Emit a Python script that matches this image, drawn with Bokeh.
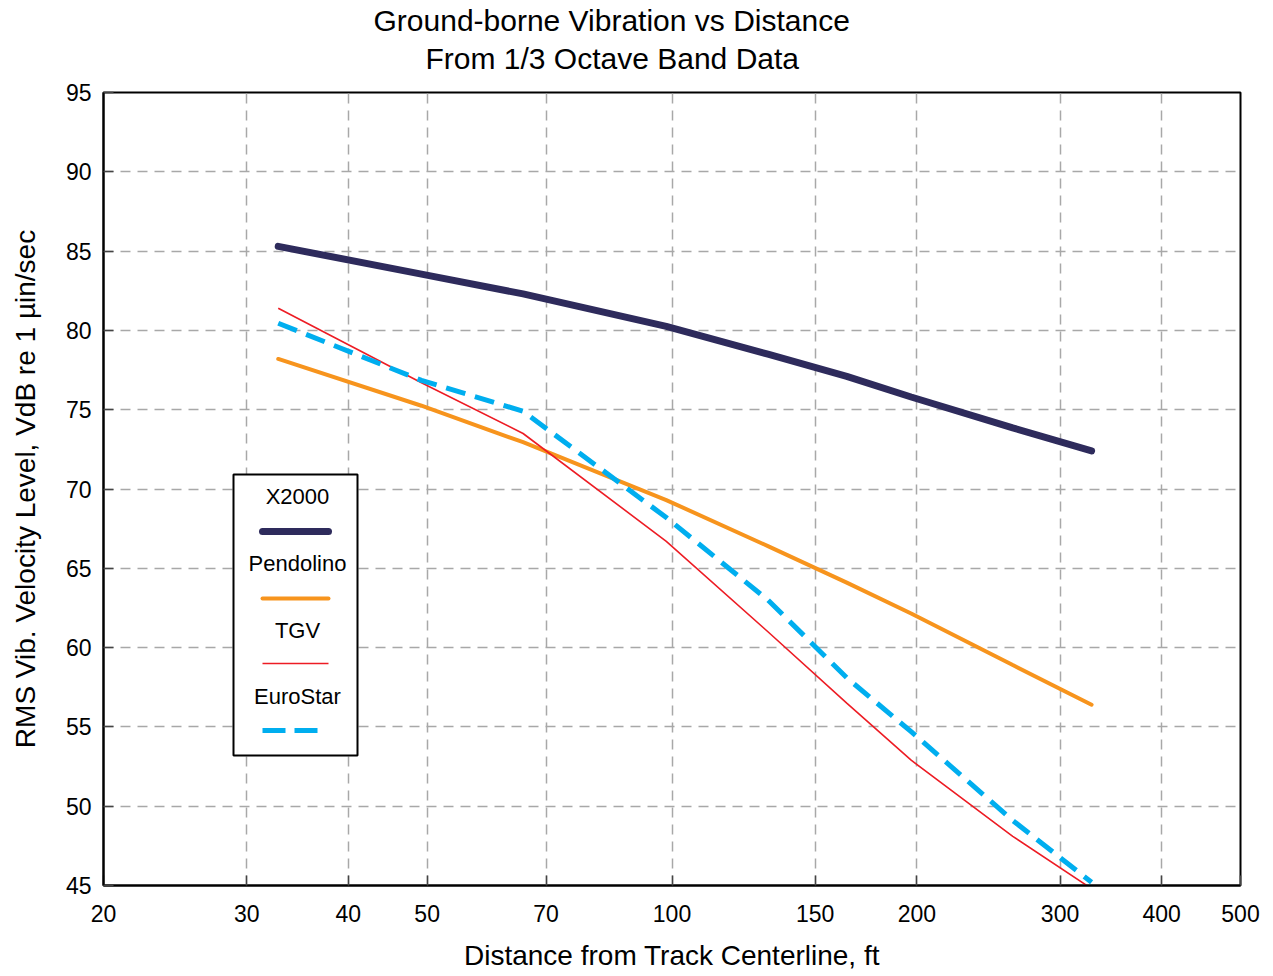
import math
from bokeh.plotting import figure
from bokeh.models import (FixedTicker, PrintfTickFormatter, Label, BoxAnnotation, Range1d, Title)
from bokeh.embed import file_html
from bokeh.resources import INLINE

# ---------------- data ----------------
distance_ft = [32.8, 49.2, 65.6, 98.4, 131.2, 164.0, 196.8, 262.4, 328.0]
x2000 = [85.3, 83.55, 82.3, 80.25, 78.5, 77.1, 75.8, 73.85, 72.4]
pendolino = [78.2, 75.25, 72.95, 69.3, 66.4, 64.1, 62.15, 58.9, 56.4]
tgv = [81.4, 76.7, 73.5, 66.7, 61.0, 56.5, 52.9, 48.1, 44.8]
eurostar = [80.45, 76.85, 74.9, 68.2, 63.0, 58.1, 54.7, 49.1, 45.2]

x_ticks = [20, 30, 40, 50, 70, 100, 150, 200, 300, 400, 500]
y_ticks = [45, 50, 55, 60, 65, 70, 75, 80, 85, 90, 95]
series_names = ["X2000", "Pendolino", "TGV", "EuroStar"]

title_lines = ["Ground-borne Vibration vs Distance", "From 1/3 Octave Band Data"]
x_label = "Distance from Track Centerline, ft"
y_label = "RMS Vib. Velocity Level, VdB re 1 \u00b5in/sec"

# ---------------- styles ----------------
FONT = "Liberation Sans"
NAVY = "#2e2b5c"
ORANGE = "#f7941d"
RED = "#ed1c24"
CYAN = "#00aeef"

X_MIN, X_MAX = 20, 500
Y_MIN, Y_MAX = 45, 95

W, H = 1265, 976
# frame position in picture pixels
FL, FR, FT, FB = 103, 1240, 92, 885

p = figure(width=W, height=H, x_axis_type="log",
           x_range=Range1d(X_MIN, X_MAX), y_range=Range1d(Y_MIN, Y_MAX),
           output_backend="svg", toolbar_location=None,
           min_border_left=FL, min_border_right=W - FR,
           min_border_top=FT, min_border_bottom=H - FB)
p.background_fill_color = "white"
p.border_fill_color = "white"
p.outline_line_color = "black"
p.outline_line_width = 2


def xd(px):
    lo, hi = math.log10(X_MIN), math.log10(X_MAX)
    return 10 ** (lo + (px - FL) / (FR - FL) * (hi - lo))


def yd(py):
    return Y_MAX - (py - FT) / (FB - FT) * (Y_MAX - Y_MIN)


# title (two lines, second one nearest the frame)
for txt, sb, off in zip(reversed(title_lines), [32, -27], [322, 270]):
    p.add_layout(Title(text=txt, align="left", offset=off, text_font=FONT,
                       vertical_align="top",
                       text_font_size="30px", text_font_style="normal",
                       text_color="black", standoff=sb), "above")

# axes
p.xaxis.ticker = FixedTicker(ticks=x_ticks)
p.xaxis.formatter = PrintfTickFormatter(format="%d")
p.yaxis.ticker = FixedTicker(ticks=y_ticks)
for ax in (p.xaxis, p.yaxis):
    ax.axis_line_color = "black"
    ax.axis_line_width = 2
    ax.major_tick_in = 10
    ax.major_tick_out = 0
    ax.major_tick_line_color = "#444444"
    ax.major_tick_line_width = 1.5
    ax.minor_tick_line_color = None
    ax.major_label_text_font = FONT
    ax.major_label_text_font_size = "23px"
    ax.major_label_text_color = "black"
    ax.axis_label_text_font = FONT
    ax.axis_label_text_font_size = "28px"
    ax.axis_label_text_font_style = "normal"
    ax.axis_label_text_color = "black"
p.xaxis.axis_label = x_label
p.yaxis.axis_label = y_label
p.xaxis.major_label_standoff = 19
p.xaxis.axis_label_standoff = 15
p.yaxis.major_label_standoff = 12
p.yaxis.axis_label_standoff = 22

# grid
for g in (p.xgrid, p.ygrid):
    g.grid_line_color = "#a8a8a8"
    g.grid_line_dash = "10 7"
    g.grid_line_width = 1.5
p.xgrid.ticker = FixedTicker(ticks=x_ticks)
p.ygrid.ticker = FixedTicker(ticks=y_ticks)

# data lines
p.line(distance_ft, x2000, line_color=NAVY, line_width=7, line_cap="round")
p.line(distance_ft, pendolino, line_color=ORANGE, line_width=4, line_cap="round")
p.line(distance_ft, tgv, line_color=RED, line_width=1.6)
p.line(distance_ft, eurostar, line_color=CYAN, line_width=5, line_dash="20 10")

# legend (label above sample line)
box = BoxAnnotation(left=xd(233), right=xd(357), top=yd(474), bottom=yd(755),
                    fill_color="white", fill_alpha=1.0, line_color="black",
                    line_alpha=1.0, line_width=2, level="underlay")
p.add_layout(box)

legend_text_y = [496, 563, 630, 696]
legend_line_y = [531, 598, 663, 730]
legend_line_x1 = [328, 328, 328, 317]
legend_styles = [
    dict(line_color=NAVY, line_width=7, line_cap="round"),
    dict(line_color=ORANGE, line_width=4, line_cap="round"),
    dict(line_color=RED, line_width=1.6),
    dict(line_color=CYAN, line_width=5, line_dash="23 9"),
]
for name, ty, ly, lx1, st in zip(series_names, legend_text_y, legend_line_y,
                                 legend_line_x1, legend_styles):
    p.add_layout(Label(x=xd(297), y=yd(ty), text=name, text_align="center",
                       text_baseline="middle", text_font=FONT,
                       text_font_size="22px", text_color="black"))
    p.line([xd(262), xd(lx1)], [yd(ly), yd(ly)], **st)

open("out.html", "w").write(file_html(p, INLINE))
